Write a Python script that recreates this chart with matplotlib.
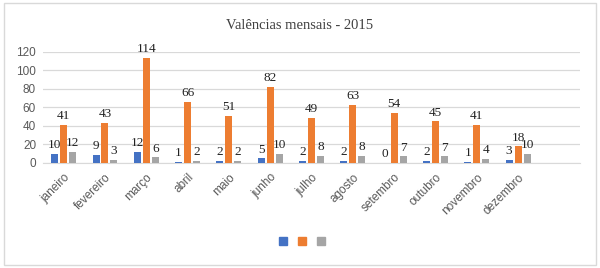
import numpy as np
import matplotlib.pyplot as plt
from matplotlib.patches import Patch, Rectangle

## Data ##
meses = ["janeiro", "fevereiro", "março", "abril", "maio", "junho",
         "julho", "agosto", "setembro", "outubro", "novembro", "dezembro"]
serie_azul = [10, 9, 12, 1, 2, 5, 2, 2, 0, 2, 1, 3]
serie_laranja = [41, 43, 114, 66, 51, 82, 49, 63, 54, 45, 41, 18]
serie_cinza = [12, 3, 6, 2, 2, 10, 8, 8, 7, 7, 4, 10]
cores = ["#4472C4", "#ED7D31", "#A5A5A5"]

serif = ["Liberation Serif", "DejaVu Serif"]
sans = ["Liberation Sans", "DejaVu Sans"]

fig = plt.figure(figsize=(6, 2.68), dpi=100)
ax = fig.add_axes([0.0717, 0.392, 0.895, 0.414])

## Bars ##
x = np.arange(len(meses))
largura = 0.17
passo = 0.217
for i, (serie, cor) in enumerate(zip([serie_azul, serie_laranja, serie_cinza], cores)):
    barras = ax.bar(x + (i - 1) * passo, serie, largura, color=cor, zorder=3)
    for b, v in zip(barras, serie):
        ax.annotate(str(v), (b.get_x() + b.get_width() / 2, v),
                    xytext=(0, 2), textcoords="offset points",
                    ha="center", va="bottom", fontsize=9.5,
                    family=serif, color="#222222")

## Axes ##
ax.set_xlim(-0.5, 12.5)
ax.set_ylim(0, 120)
ax.set_yticks(range(0, 121, 20))
ax.yaxis.grid(True, color="#D9D9D9", linewidth=0.9, zorder=0)
for s in ["top", "right", "left"]:
    ax.spines[s].set_visible(False)
ax.spines["bottom"].set_color("#D9D9D9")
ax.tick_params(length=0, labelsize=8.5, colors="#595959")
ax.set_xticks(x)
ax.set_xticklabels(meses, rotation=45, ha="right", rotation_mode="anchor",
                   family=sans, fontsize=8.5, color="#595959")
for t in ax.get_yticklabels():
    t.set_family(sans)
ax.tick_params(axis="x", pad=6)
ax.tick_params(axis="y", pad=5)

## Title ##
fig.text(0.5, 0.905, "Valências mensais - 2015", ha="center", va="center",
         fontsize=10.5, family=serif, color="#404040")

## Legend (no labels) ##
handles = [Patch(color=c) for c in cores]
fig.legend(handles, ["", "", ""], loc="center", bbox_to_anchor=(0.505, 0.097),
           ncol=3, frameon=False, handlelength=0.7, handleheight=0.7,
           handletextpad=0.2, columnspacing=0.8, fontsize=8)

## Border ##
fig.patches.append(Rectangle((0.006, 0.01), 0.988, 0.978, transform=fig.transFigure,
                             fill=False, edgecolor="#D9D9D9", linewidth=1))

plt.savefig("out.png", dpi=100)
